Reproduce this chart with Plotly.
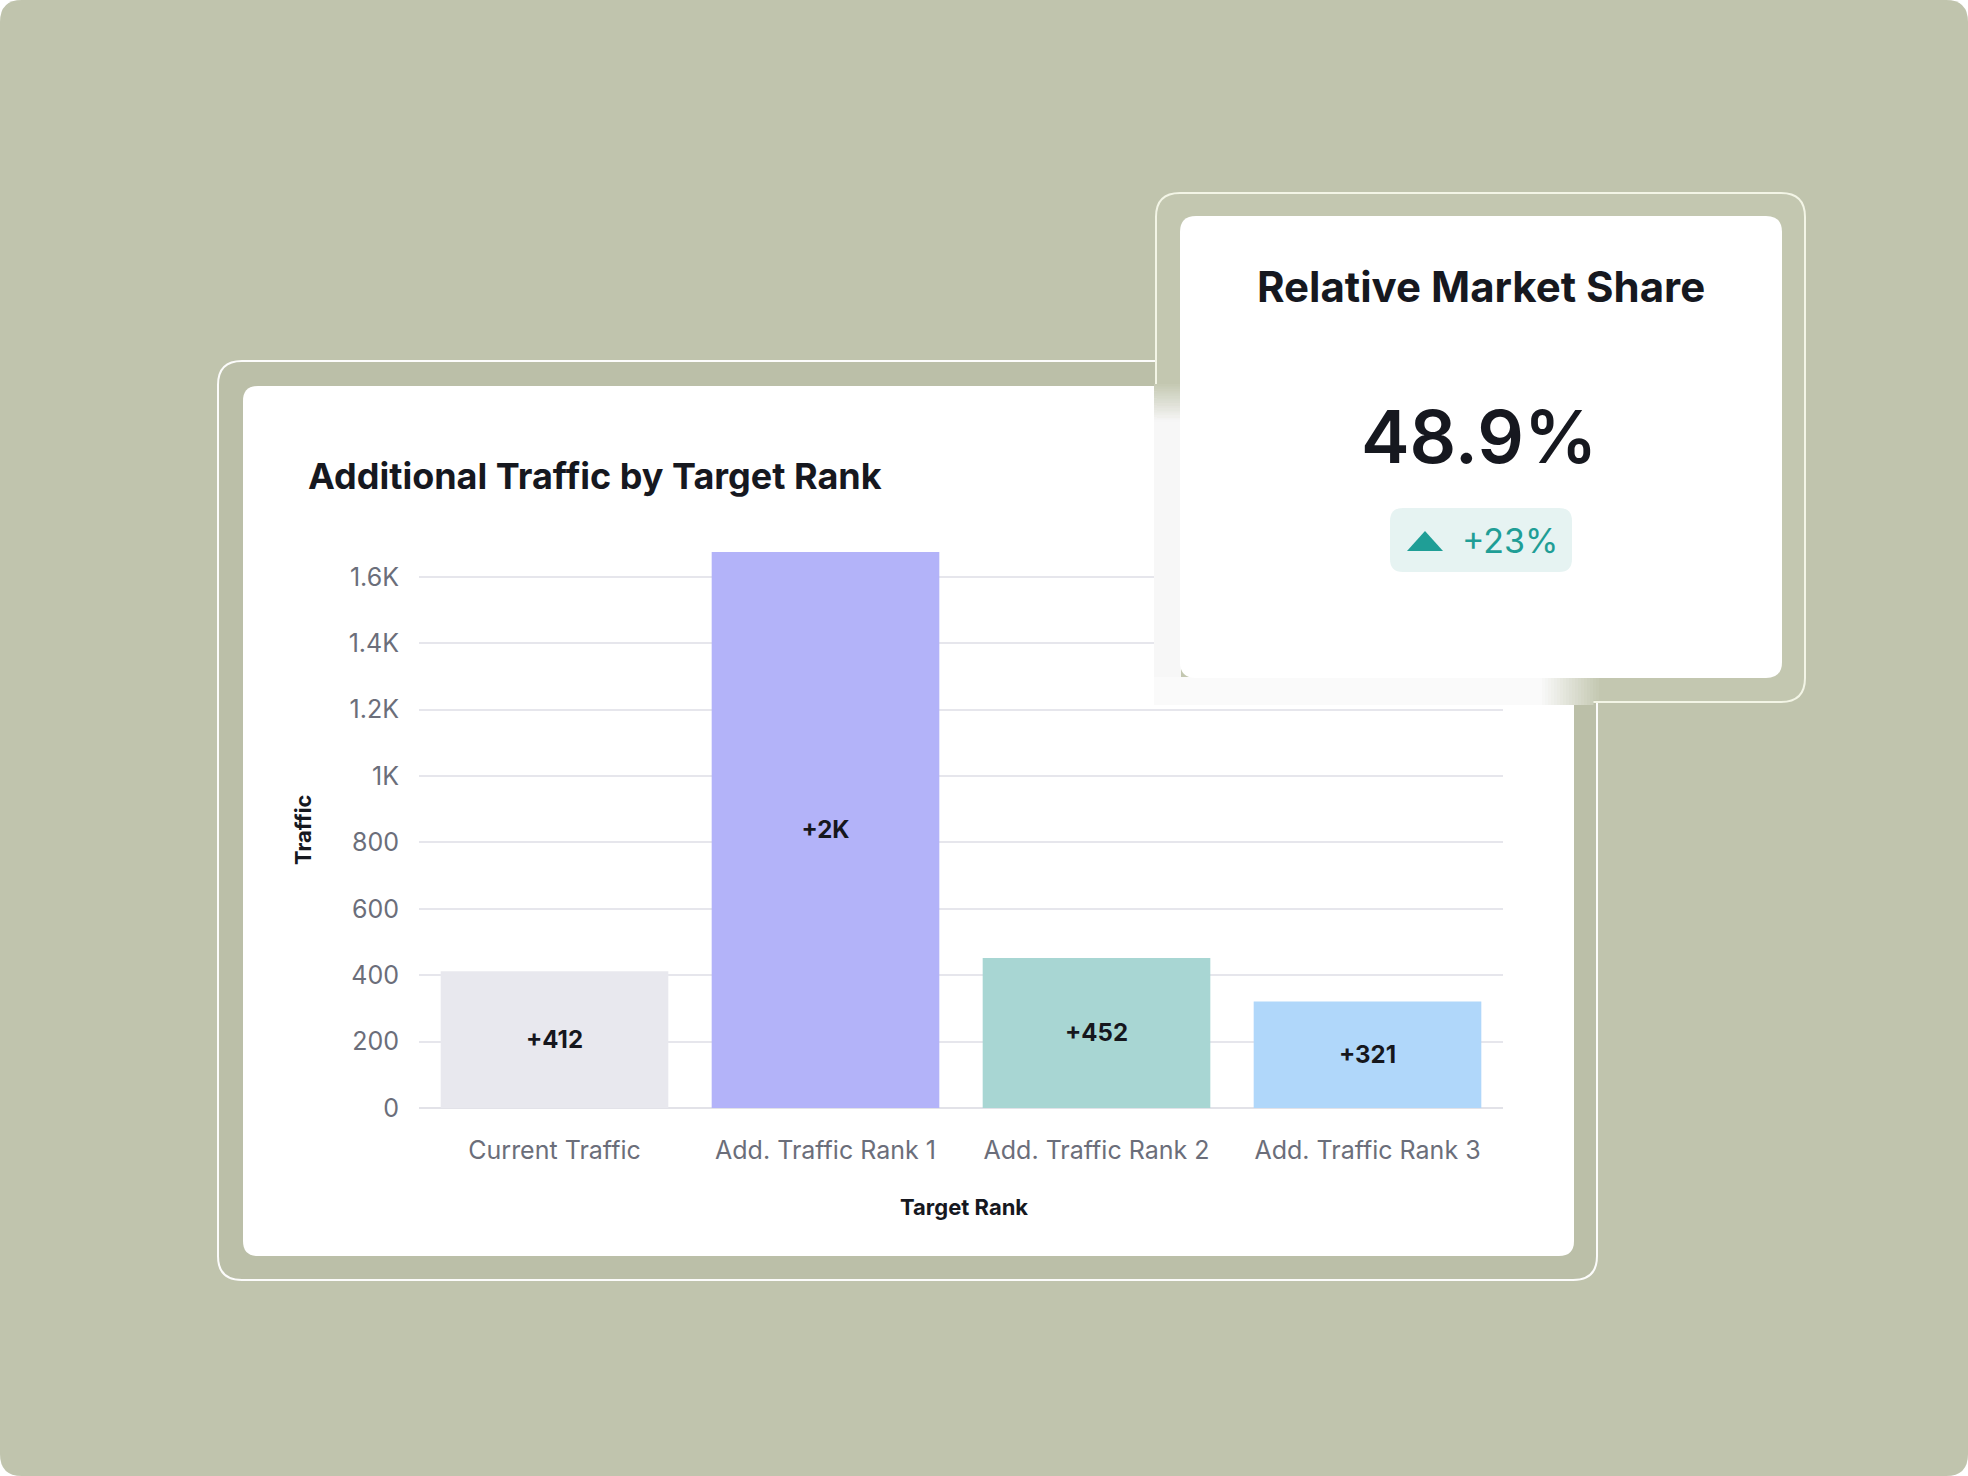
import plotly.graph_objects as go

# ---------------- data ----------------
categories = ["Current Traffic", "Add. Traffic Rank 1", "Add. Traffic Rank 2", "Add. Traffic Rank 3"]
traffic = [412, 1675, 452, 321]
bar_labels = ["+412", "+2K", "+452", "+321"]
bar_colors = ["#E8E8EE", "#B3B3F9", "#A8D6D3", "#B0D7FA"]
y_tickvals = [0, 200, 400, 600, 800, 1000, 1200, 1400, 1600]
y_ticktext = ["0", "200", "400", "600", "800", "1K", "1.2K", "1.4K", "1.6K"]
chart_title = "Additional Traffic by Target Rank"
x_title = "Target Rank"
y_title = "Traffic"
kpi_title = "Relative Market Share"
kpi_value = "48.9%"
kpi_change = "+23%"

# ---------------- geometry helpers ----------------
W, H = 1968, 1476
BG = "#C0C4AD"
FRAME = "#BBBFA8"
OFRAME = "#C3C7B0"
FONT = "Inter"


def X(p):
    return p / W


def Y(p):
    return 1 - p / H


def rrect(x0, y0, x1, y1, r):
    pts = [
        ("M", [(x0 + r, y0)]),
        ("L", [(x1 - r, y0)]),
        ("Q", [(x1, y0), (x1, y0 + r)]),
        ("L", [(x1, y1 - r)]),
        ("Q", [(x1, y1), (x1 - r, y1)]),
        ("L", [(x0 + r, y1)]),
        ("Q", [(x0, y1), (x0, y1 - r)]),
        ("L", [(x0, y0 + r)]),
        ("Q", [(x0, y0), (x0 + r, y0)]),
    ]
    s = ""
    for cmd, ps in pts:
        s += cmd + " ".join(f"{X(a):.6f},{Y(b):.6f}" for a, b in ps) + " "
    return s + "Z"


def hexrgb(h):
    h = h.lstrip("#")
    return tuple(int(h[i:i + 2], 16) for i in (0, 2, 4))


def mix(c1, c2, t):
    a, b = hexrgb(c1), hexrgb(c2)
    return "rgb(%d,%d,%d)" % tuple(round(a[i] + (b[i] - a[i]) * t) for i in range(3))


shapes = []
# whole background with rounded corners
shapes.append(dict(type="path", path=rrect(0, 0, W, H, 22), fillcolor=BG, line=dict(width=0),
                   xref="paper", yref="paper", layer="below"))
# main frame
shapes.append(dict(type="path", path=rrect(218, 361, 1597, 1280, 24), fillcolor=FRAME,
                   line=dict(color="rgba(255,255,255,0.95)", width=2), xref="paper", yref="paper", layer="below"))
# main white card
shapes.append(dict(type="path", path=rrect(243, 386, 1574, 1256, 15), fillcolor="white",
                   line=dict(width=0), xref="paper", yref="paper", layer="below"))

# overlay frame
shapes.append(dict(type="path", path=rrect(1156, 193, 1805, 702, 24), fillcolor=OFRAME,
                   line=dict(color="#F3F5E6", width=2), xref="paper", yref="paper", layer="above"))
# left strip fade (frame over white card)
steps = 16
y_a, y_b = 384, 422
for i in range(steps):
    t = (i + 1) / steps
    ya = y_a + (y_b - y_a) * i / steps
    yb = y_a + (y_b - y_a) * (i + 1) / steps
    shapes.append(dict(type="rect", x0=X(1154), x1=X(1181), y0=Y(ya), y1=Y(yb + 0.5),
                       fillcolor=mix(OFRAME, "#F6F6F6", t), line=dict(width=0),
                       xref="paper", yref="paper", layer="above"))
shapes.append(dict(type="rect", x0=X(1154), x1=X(1181), y0=Y(y_b), y1=Y(705),
                   fillcolor="#F7F7F7", line=dict(width=0), xref="paper", yref="paper", layer="above"))
# bottom strip fade
shapes.append(dict(type="rect", x0=X(1154), x1=X(1542), y0=Y(677), y1=Y(705),
                   fillcolor="#FAFAFA", line=dict(width=0), xref="paper", yref="paper", layer="above"))
steps = 20
x_a, x_b = 1542, 1602
for i in range(steps):
    t = (i + 1) / steps
    xa = x_a + (x_b - x_a) * i / steps
    xb = x_a + (x_b - x_a) * (i + 1) / steps
    shapes.append(dict(type="rect", x0=X(xa), x1=X(xb + 0.5), y0=Y(677), y1=Y(705 if t < 0.9 else 700),
                       fillcolor=mix("#FAFAFA", OFRAME, t), line=dict(width=0),
                       xref="paper", yref="paper", layer="above"))
# overlay inner card
shapes.append(dict(type="path", path=rrect(1180, 216, 1782, 678, 16), fillcolor="white",
                   line=dict(width=0), xref="paper", yref="paper", layer="above"))
# badge
shapes.append(dict(type="path", path=rrect(1390, 508, 1572, 572, 13), fillcolor="#E6F3F2",
                   line=dict(width=0), xref="paper", yref="paper", layer="above"))
# triangle
tri = f"M{X(1407):.6f},{Y(551):.6f} L{X(1443):.6f},{Y(551):.6f} L{X(1425):.6f},{Y(531):.6f} Z"
shapes.append(dict(type="path", path=tri, fillcolor="#1F9E96", line=dict(width=0),
                   xref="paper", yref="paper", layer="above"))


def ann(text, x, y, xanchor, size, color, weight, angle=0):
    return dict(text=text, x=X(x), y=Y(y), xref="paper", yref="paper", xanchor=xanchor, yanchor="middle",
                showarrow=False, textangle=angle,
                font=dict(family=FONT, size=size, color=color, weight=weight))


annotations = [
    ann(chart_title, 306, 476, "left", 36, "#16181F", 700),
    ann(kpi_title, 1481, 286, "center", 42, "#16181F", 700),
    ann(kpi_value, 1479, 437, "center", 73, "#16181F", 600),
    ann(kpi_change, 1460, 540, "left", 34, "#1F9E96", 400),
    ann(x_title, 964, 1207, "center", 22, "#16181F", 700),
    ann(y_title, 303, 830, "center", 22, "#16181F", 700, -90),
]

fig = go.Figure(go.Bar(
    x=categories, y=traffic, text=bar_labels, marker=dict(color=bar_colors, line=dict(width=0)),
    textposition="inside", insidetextanchor="middle", textangle=0,
    textfont=dict(family=FONT, size=24, color="#16171D", weight=700),
    hoverinfo="skip",
))

y0_px, ymax = 1108, 1700
per = 66.4 / 200
ytop_px = y0_px - ymax * per

fig.update_layout(
    width=W, height=H, autosize=False,
    margin=dict(l=0, r=0, t=0, b=0, pad=0, autoexpand=False),
    paper_bgcolor="white", plot_bgcolor="rgba(0,0,0,0)",
    showlegend=False, bargap=0.16,
    shapes=shapes, annotations=annotations,
    xaxis=dict(domain=[X(419), X(1503)], showgrid=False, zeroline=False, showline=False, automargin=False,
               ticks="outside", ticklen=20, tickcolor="rgba(0,0,0,0)",
               tickfont=dict(family=FONT, size=25, color="#6B6E7A"), fixedrange=True),
    yaxis=dict(domain=[1 - y0_px / H, 1 - ytop_px / H], range=[0, ymax], automargin=False,
               tickvals=y_tickvals, ticktext=y_ticktext,
               showgrid=True, gridcolor="#E6E6EC", gridwidth=2,
               zeroline=True, zerolinecolor="#E2E2E8", zerolinewidth=2, showline=False,
               ticks="outside", ticklen=14, tickcolor="rgba(0,0,0,0)",
               tickfont=dict(family=FONT, size=25, color="#6B6E7A"), fixedrange=True),
    font=dict(family=FONT),
)

fig.write_html("out.html", config={"displayModeBar": False, "responsive": False})
